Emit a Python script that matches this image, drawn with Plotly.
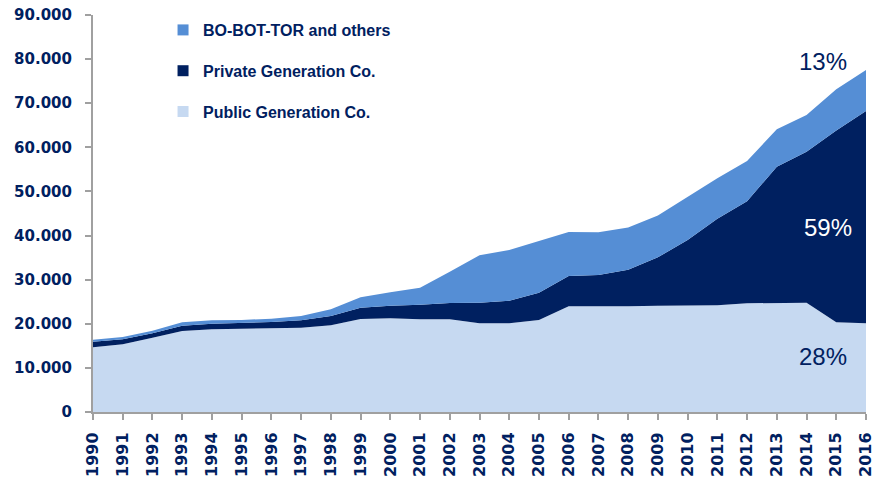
import plotly.graph_objects as go

years = list(range(1990, 2017))

public_gen = [14670, 15350, 16850, 18370, 18750, 18900, 18970, 19120, 19650, 21090,
              21240, 21010, 21010, 20100, 20100, 20860, 23960, 23880, 23960, 24110,
              24110, 24190, 24640, 24640, 24790, 20330, 20100]
private_gen = [1270, 1130, 990, 1210, 1280, 1280, 1440, 1670, 2120, 2570,
               2870, 3330, 3710, 4690, 5140, 6200, 6880, 7190, 8310, 10960,
               14890, 19610, 23160, 30960, 34210, 43470, 48150]
bot_others = [460, 520, 600, 750, 760, 680, 750, 980, 1510, 2340,
              3030, 3850, 7100, 10770, 11490, 11790, 9980, 9670, 9530, 9450,
              9700, 9200, 9100, 8500, 8350, 9350, 9300]

series_names = ["Public Generation Co.", "Private Generation Co.", "BO-BOT-TOR and others"]
series_values = [public_gen, private_gen, bot_others]
series_colors = ["#C6D9F1", "#002060", "#558ED5"]

share_labels = ["28%", "59%", "13%"]
share_pos_y = [12470, 41940, 79350]
share_pos_x = [2014.55, 2014.72, 2014.55]
share_colors = ["#002060", "white", "#002060"]

NAVY = "#002060"
AXIS = "#A0A0A0"
TICKFONT = "DejaVu Sans, Verdana, sans-serif"
TEXTFONT = "Liberation Sans, Arial, sans-serif"

fig = go.Figure()

for name, vals, col in zip(series_names, series_values, series_colors):
    fig.add_trace(go.Scatter(
        x=years, y=vals, name=name, mode="lines",
        stackgroup="one", line=dict(width=0, color=col),
        fillcolor=col, showlegend=False, hoverinfo="x+y+name",
    ))

# legend entries (square markers), top to bottom
for name, col in reversed(list(zip(series_names, series_colors))):
    fig.add_trace(go.Scatter(
        x=[None], y=[None], name=name, mode="markers",
        marker=dict(symbol="square", size=11, color=col),
        legendgroup=name, showlegend=True,
    ))

for lab, xv, yv, col in zip(share_labels, share_pos_x, share_pos_y, share_colors):
    fig.add_annotation(x=xv, y=yv, text=lab, showarrow=False,
                       font=dict(family=TEXTFONT, size=24, color=col),
                       xanchor="center", yanchor="middle")

fig.update_layout(
    width=875, height=479,
    margin=dict(l=93, r=9, t=15, b=67, autoexpand=False),
    paper_bgcolor="white", plot_bgcolor="white",
    separators=",.",
    font=dict(family=TEXTFONT, color=NAVY),
    showlegend=True,
    legend=dict(
        x=0.0906, y=1.005, xanchor="left", yanchor="top",
        traceorder="grouped", tracegroupgap=17,
        font=dict(family=TEXTFONT, size=16, color=NAVY, weight="bold"),
        bgcolor="rgba(0,0,0,0)",
    ),
    xaxis=dict(
        range=[1990, 2016.0001], tickmode="array", tickvals=years,
        ticktext=[str(y) for y in years], tickangle=-90,
        showgrid=False, zeroline=False, automargin=False,
        showline=True, linecolor=AXIS, linewidth=2,
        ticks="outside", ticklen=6, tickwidth=2, tickcolor=AXIS,
        tickfont=dict(family=TICKFONT, size=16, color=NAVY, weight="bold"),
        ticklabelstandoff=6, ticklabeloverflow="allow",
    ),
    yaxis=dict(
        range=[0, 90000], dtick=10000, tickformat=",d",
        showgrid=False, zeroline=False, automargin=False,
        showline=True, linecolor=AXIS, linewidth=2,
        ticks="outside", ticklen=6, tickwidth=2, tickcolor=AXIS,
        tickfont=dict(family=TICKFONT, size=15, color=NAVY, weight="bold"),
        ticklabelstandoff=10,
    ),
)

fig.write_html("out.html", config={"displayModeBar": False},
               post_script="document.body.style.margin='0';")
